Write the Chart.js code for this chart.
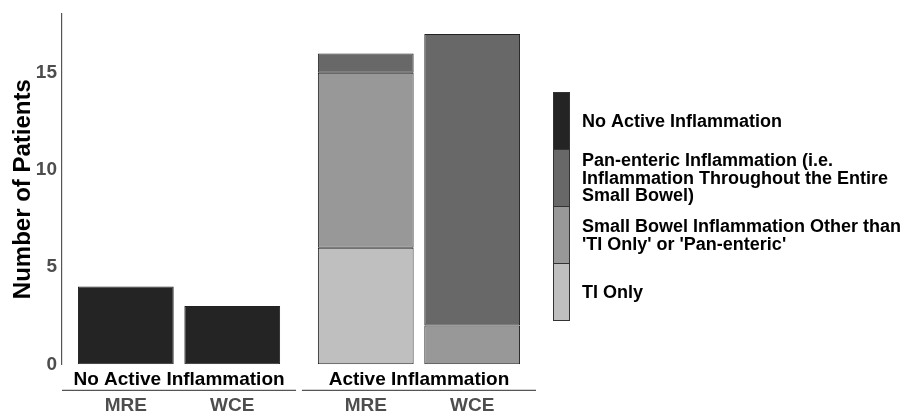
<!DOCTYPE html>
<html>
<head>
<meta charset="utf-8">
<script src="https://cdn.jsdelivr.net/npm/chart.js@4"></script>
<style>
  html, body { margin: 0; padding: 0; background: #fff; }
  #wrap { width: 909px; height: 412px; }
</style>
</head>
<body>
<div id="wrap"><canvas id="patientsChart"></canvas></div>
<script>
// Facets, modalities and counts per bar (order: facet 1 MRE, WCE, facet 2 MRE, WCE)
const facets = ['No Active Inflammation', 'Active Inflammation'];
const modalities = ['MRE', 'WCE'];
const tiOnly = [null, null, 6, null];
const smallBowelOther = [null, null, 9, 2];
const panEnteric = [null, null, 1, 15];
const noActive = [4, 3, null, null];
const yTicks = [0, 5, 10, 15];

const FONT = "'Liberation Sans', Arial, sans-serif";
const EXPAND = 0.6;
const PANEL_GAP = 0.055;
const panelWidth = modalities.length - 1 + 2 * EXPAND;

function barX(i) {
    const f = Math.floor(i / modalities.length);
    const m = i % modalities.length;
    return f * (panelWidth + PANEL_GAP) + EXPAND + m;
}
function toPoints(values) {
    return values.map((v, i) => v === null ? null : { x: barX(i), y: v }).filter(p => p);
}

const series = [
    { label: 'TI Only', values: tiOnly, color: '#bfbfbf' },
    { label: "Small Bowel Inflammation Other than\n'TI Only' or 'Pan-enteric'", values: smallBowelOther, color: '#989898' },
    { label: 'Pan-enteric Inflammation (i.e.\nInflammation Throughout the Entire\nSmall Bowel)', values: panEnteric, color: '#686868' },
    { label: 'No Active Inflammation', values: noActive, color: '#242424' }
];

// Facet strip labels and their axis lines below the panels
const facetStrips = {
    id: 'facetStrips',
    afterDraw(chart) {
        const { ctx, scales: { x } } = chart;
        const area = chart.chartArea;
        ctx.save();
        facets.forEach((name, f) => {
            const x0 = x.getPixelForValue(f * (panelWidth + PANEL_GAP));
            const x1 = x.getPixelForValue(f * (panelWidth + PANEL_GAP) + panelWidth);
            ctx.fillStyle = '#000';
            ctx.font = 'bold 19px ' + FONT;
            ctx.textAlign = 'center';
            ctx.textBaseline = 'middle';
            ctx.fillText(name, (x0 + x1) / 2, area.bottom + 15.5);
            ctx.strokeStyle = '#555';
            ctx.lineWidth = 1.2;
            ctx.beginPath();
            ctx.moveTo(x0, area.bottom + 26);
            ctx.lineTo(x1, area.bottom + 26);
            ctx.stroke();
        });
        ctx.restore();
    }
};

// ggplot-style legend: stacked key boxes with labels
const blockLegend = {
    id: 'blockLegend',
    afterDraw(chart) {
        const { ctx } = chart;
        const items = chart.data.datasets.slice().reverse();
        const left = 553, top = 92, w = 16, h = 57;
        ctx.save();
        items.forEach((ds, i) => {
            const y = top + i * h;
            ctx.fillStyle = ds.backgroundColor;
            ctx.fillRect(left, y, w, h);
            ctx.strokeStyle = '#333';
            ctx.lineWidth = 1;
            ctx.strokeRect(left + 0.5, y + 0.5, w, h);
            const lines = ds.label.split('\n');
            const lh = 17.5;
            const cy = y + h / 2 + 1.5;
            ctx.fillStyle = '#000';
            ctx.font = 'bold 18px ' + FONT;
            ctx.textAlign = 'left';
            ctx.textBaseline = 'middle';
            lines.forEach((line, k) => {
                ctx.fillText(line, 582, cy + (k - (lines.length - 1) / 2) * lh);
            });
        });
        ctx.restore();
    }
};

const ctx = document.getElementById('patientsChart').getContext('2d');
new Chart(ctx, {
    type: 'bar',
    data: {
        datasets: series.map(s => ({
            label: s.label,
            data: toPoints(s.values),
            backgroundColor: s.color,
            borderColor: '#222',
            borderWidth: 1,
            borderSkipped: false,
            barPercentage: 0.9,
            categoryPercentage: 1.0
        }))
    },
    options: {
        responsive: true,
        maintainAspectRatio: false,
        animation: false,
        layout: { padding: { left: 0, right: 373, top: 14, bottom: 0 } },
        plugins: {
            legend: { display: false },
            tooltip: { enabled: false }
        },
        scales: {
            x: {
                type: 'linear',
                stacked: true,
                offset: false,
                min: 0,
                max: 2 * panelWidth + PANEL_GAP,
                grid: { display: false, drawTicks: false, tickLength: 0 },
                border: { display: false },
                afterBuildTicks: (scale) => {
                    scale.ticks = facets.flatMap((f, fi) => modalities.map((m, mi) => ({ value: barX(fi * modalities.length + mi) })));
                },
                afterFit: (scale) => {
                    scale.height = 47.7;
                    scale.paddingLeft = 0;
                    scale.paddingRight = 0;
                },
                ticks: {
                    autoSkip: false,
                    maxRotation: 0,
                    padding: 30,
                    color: '#4d4d4d',
                    font: { family: FONT, size: 19, weight: 'bold' },
                    callback: (value, index) => modalities[index % modalities.length]
                }
            },
            y: {
                stacked: true,
                min: 0,
                max: 18.03,
                grid: { display: false, drawTicks: false, tickLength: 0 },
                border: { display: true, color: '#555', width: 1.2 },
                afterBuildTicks: (scale) => {
                    scale.ticks = yTicks.map(v => ({ value: v }));
                },
                afterFit: (scale) => {
                    scale.width = 62;
                    scale.paddingTop = 0;
                    scale.paddingBottom = 0;
                },
                ticks: {
                    padding: 5,
                    color: '#4d4d4d',
                    font: { family: FONT, size: 19, weight: 'bold' }
                },
                title: {
                    display: true,
                    text: 'Number of Patients',
                    color: '#000',
                    padding: { top: 9, bottom: 0 },
                    font: { family: FONT, size: 24, weight: 'bold' }
                }
            }
        }
    },
    plugins: [facetStrips, blockLegend]
});
</script>
</body>
</html>
